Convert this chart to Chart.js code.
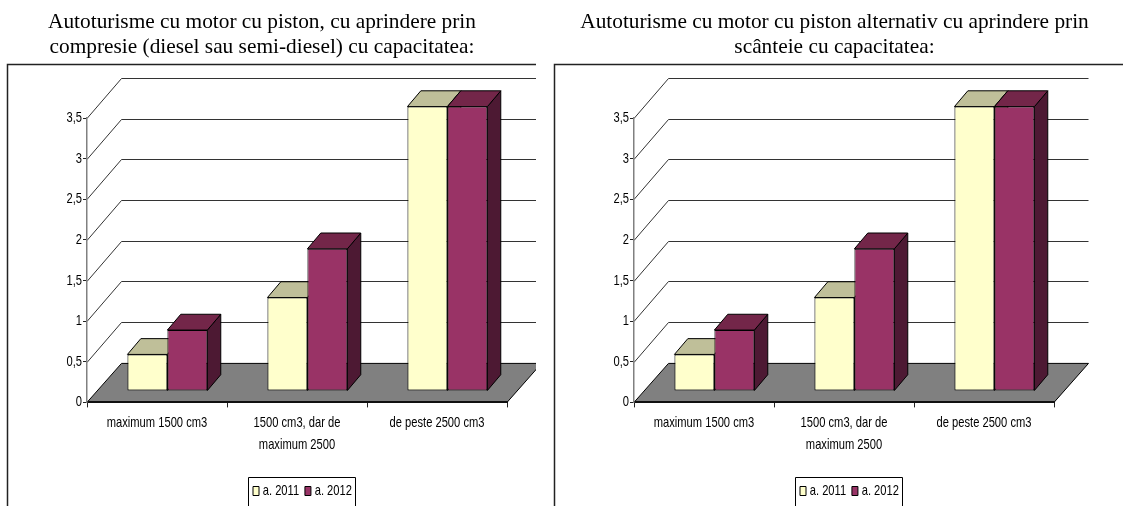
<!DOCTYPE html>
<html>
<head>
<meta charset="utf-8">
<script src="https://cdn.jsdelivr.net/npm/chart.js@4"></script>
<style>
html,body{margin:0;padding:0;background:#fff;overflow:hidden;width:1123px;height:506px}
canvas{position:absolute;top:0}
#c1{left:0}
#c2{left:547px}
.t{position:absolute;top:8.6px;text-align:center;font:21.35px/25px "Liberation Serif",serif;color:#000;white-space:nowrap}
#t1{left:0;width:524px}
#t2{left:554px;width:561px}
</style>
</head>
<body>
<canvas id="c1" width="536" height="506" style="width:536px;height:506px"></canvas>
<canvas id="c2" width="576" height="506" style="width:576px;height:506px"></canvas>
<div class="t" id="t1">Autoturisme cu motor cu piston, cu aprindere prin<br>compresie (diesel sau semi-diesel) cu capacitatea:</div>
<div class="t" id="t2">Autoturisme cu motor cu piston alternativ cu aprindere prin<br>scânteie cu capacitatea:</div>
<script>
const categories = ['maximum 1500 cm3', ['1500 cm3, dar de', 'maximum 2500'], 'de peste 2500 cm3'];
const seriesNames = ['a. 2011', 'a. 2012'];
const values2011Left = [0.45, 1.15, 3.5];
const values2012Left = [0.75, 1.75, 3.5];
const values2011Right = [0.45, 1.15, 3.5];
const values2012Right = [0.75, 1.75, 3.5];
const yMax = 3.5;
const yStep = 0.5;

const FONT = '"Liberation Sans",Arial,sans-serif';
const FONT_SIZE = 14.5;
const NARROW = 0.77;
const WALL = {dx: 34.5, dy: 40, floorDy: 39};
const BAR_SHIFT = {dx: 10.4, dy: -11.4};
const DEPTH = {dx: 13.4, dy: 15.8};
const SHADES = [{top: '#BFBF99', side: '#80806A'}, {top: '#732649', side: '#4D1933'}];

// The reference uses a condensed sans face: squeeze canvas text horizontally.
function condense(ctx) {
  const fill = ctx.fillText.bind(ctx), measure = ctx.measureText.bind(ctx);
  ctx.fillText = function (t, x, y) {
    ctx.save();
    ctx.translate(x - (seriesNames.includes(t) ? 3.5 : 0), y);
    ctx.scale(NARROW, 1);
    fill(t, 0, 0);
    ctx.restore();
  };
  ctx.measureText = function (t) {
    return {width: measure(t).width * NARROW};
  };
}

function poly(ctx, pts, fill, stroke) {
  ctx.beginPath();
  pts.forEach((p, i) => i ? ctx.lineTo(p[0], p[1]) : ctx.moveTo(p[0], p[1]));
  ctx.closePath();
  if (fill) { ctx.fillStyle = fill; ctx.fill(); }
  if (stroke) { ctx.strokeStyle = stroke; ctx.lineWidth = 1; ctx.stroke(); }
}

const walls3d = {
  id: 'walls3d',
  afterLayout(chart) {
    const l = chart.legend, p = l.options.labels.padding;
    const startX = 253;
    l.left = startX - p;
    l.right = startX + l.lineWidths[0];
    l.top = 481.5;
    l.bottom = 506;
  },
  beforeDraw(chart) {
    const ctx = chart.ctx, a = chart.chartArea, y = chart.scales.y;
    ctx.save();
    ctx.strokeStyle = '#222';
    ctx.lineWidth = 1.5;
    ctx.beginPath();
    ctx.moveTo(7.5, 506);
    ctx.lineTo(7.5, 64.5);
    ctx.lineTo(chart.width, 64.5);
    ctx.stroke();
    const b = y.getPixelForValue(0);
    poly(ctx, [[a.left, b], [a.left + WALL.dx, b - WALL.floorDy], [a.right + WALL.dx, b - WALL.floorDy], [a.right, b]], '#808080', '#000');
    ctx.strokeStyle = '#333';
    ctx.lineWidth = 1;
    y.ticks.forEach(t => {
      if (t.value === 0) return;
      const py = Math.round(y.getPixelForValue(t.value)) + 0.5;
      ctx.beginPath();
      ctx.moveTo(a.left, py);
      ctx.lineTo(a.left + WALL.dx, py - WALL.dy);
      ctx.lineTo(a.right + WALL.dx, py - WALL.dy);
      ctx.stroke();
    });
    ctx.restore();
  },
  beforeDatasetsDraw(chart) {
    const ctx = chart.ctx;
    ctx.save();
    ctx.translate(BAR_SHIFT.dx, BAR_SHIFT.dy);
    [0, 1].forEach(ds => {
      chart.getDatasetMeta(ds).data.forEach(bar => {
        const {x, y, width, base} = bar.getProps(['x', 'y', 'width', 'base'], true);
        const x0 = x - width / 2, x1 = x + width / 2, d = DEPTH.dx, e = DEPTH.dy;
        poly(ctx, [[x1, y], [x1 + d, y - e], [x1 + d, base - e], [x1, base]], SHADES[ds].side, '#000');
        poly(ctx, [[x0, y], [x1, y], [x1 + d, y - e], [x0 + d, y - e]], SHADES[ds].top, '#000');
      });
    });
  },
  afterDatasetsDraw(chart) {
    chart.ctx.restore();
  },
  afterDraw(chart) {
    const ctx = chart.ctx;
    ctx.save();
    ctx.strokeStyle = '#000';
    ctx.lineWidth = 1;
    ctx.beginPath();
    ctx.moveTo(248.5, 506);
    ctx.lineTo(248.5, 477.5);
    ctx.lineTo(355.5, 477.5);
    ctx.lineTo(355.5, 506);
    ctx.stroke();
    ctx.restore();
  }
};

function makeChart(id, a2011, a2012, padRight) {
  const canvas = document.getElementById(id);
  condense(canvas.getContext('2d'));
  return new Chart(canvas, {
    type: 'bar',
    plugins: [walls3d],
    data: {
      labels: categories,
      datasets: [
        {label: seriesNames[0], data: a2011, backgroundColor: '#FFFFCC', borderColor: '#000', borderWidth: 1, borderSkipped: false, clip: false},
        {label: seriesNames[1], data: a2012, backgroundColor: '#993366', borderColor: '#000', borderWidth: 1, borderSkipped: false, clip: false}
      ]
    },
    options: {
      responsive: false,
      animation: false,
      devicePixelRatio: 1,
      categoryPercentage: 0.571,
      barPercentage: 1,
      layout: {padding: {top: 118, right: padRight, bottom: 0, left: 0}},
      plugins: {
        title: {display: false},
        tooltip: {enabled: false},
        legend: {
          display: true,
          position: 'bottom',
          labels: {boxWidth: 6, boxHeight: 9, padding: 2.25, color: '#000', font: {family: FONT, size: FONT_SIZE}}
        }
      },
      scales: {
        x: {
          afterFit(s) { s.height = 506 - s.chart.legend.height - 402.4; },
          border: {color: '#111', width: 2},
          grid: {drawOnChartArea: false, drawTicks: true, tickLength: 5, tickColor: '#222'},
          ticks: {color: '#000', font: {family: FONT, size: FONT_SIZE, lineHeight: 1.476}, padding: 5, maxRotation: 0, autoSkip: false}
        },
        y: {
          min: 0,
          max: yMax,
          afterFit(s) { s.width = 87; },
          border: {color: '#808080', width: 1.5},
          grid: {drawOnChartArea: false, drawTicks: true, tickLength: 4, tickColor: '#222'},
          ticks: {color: '#000', stepSize: yStep, padding: 1, font: {family: FONT, size: FONT_SIZE},
                  callback: v => String(v).replace('.', ',')}
        }
      }
    }
  });
}
makeChart('c1', values2011Left, values2012Left, 29);
makeChart('c2', values2011Right, values2012Right, 69);
</script>
</body>
</html>
